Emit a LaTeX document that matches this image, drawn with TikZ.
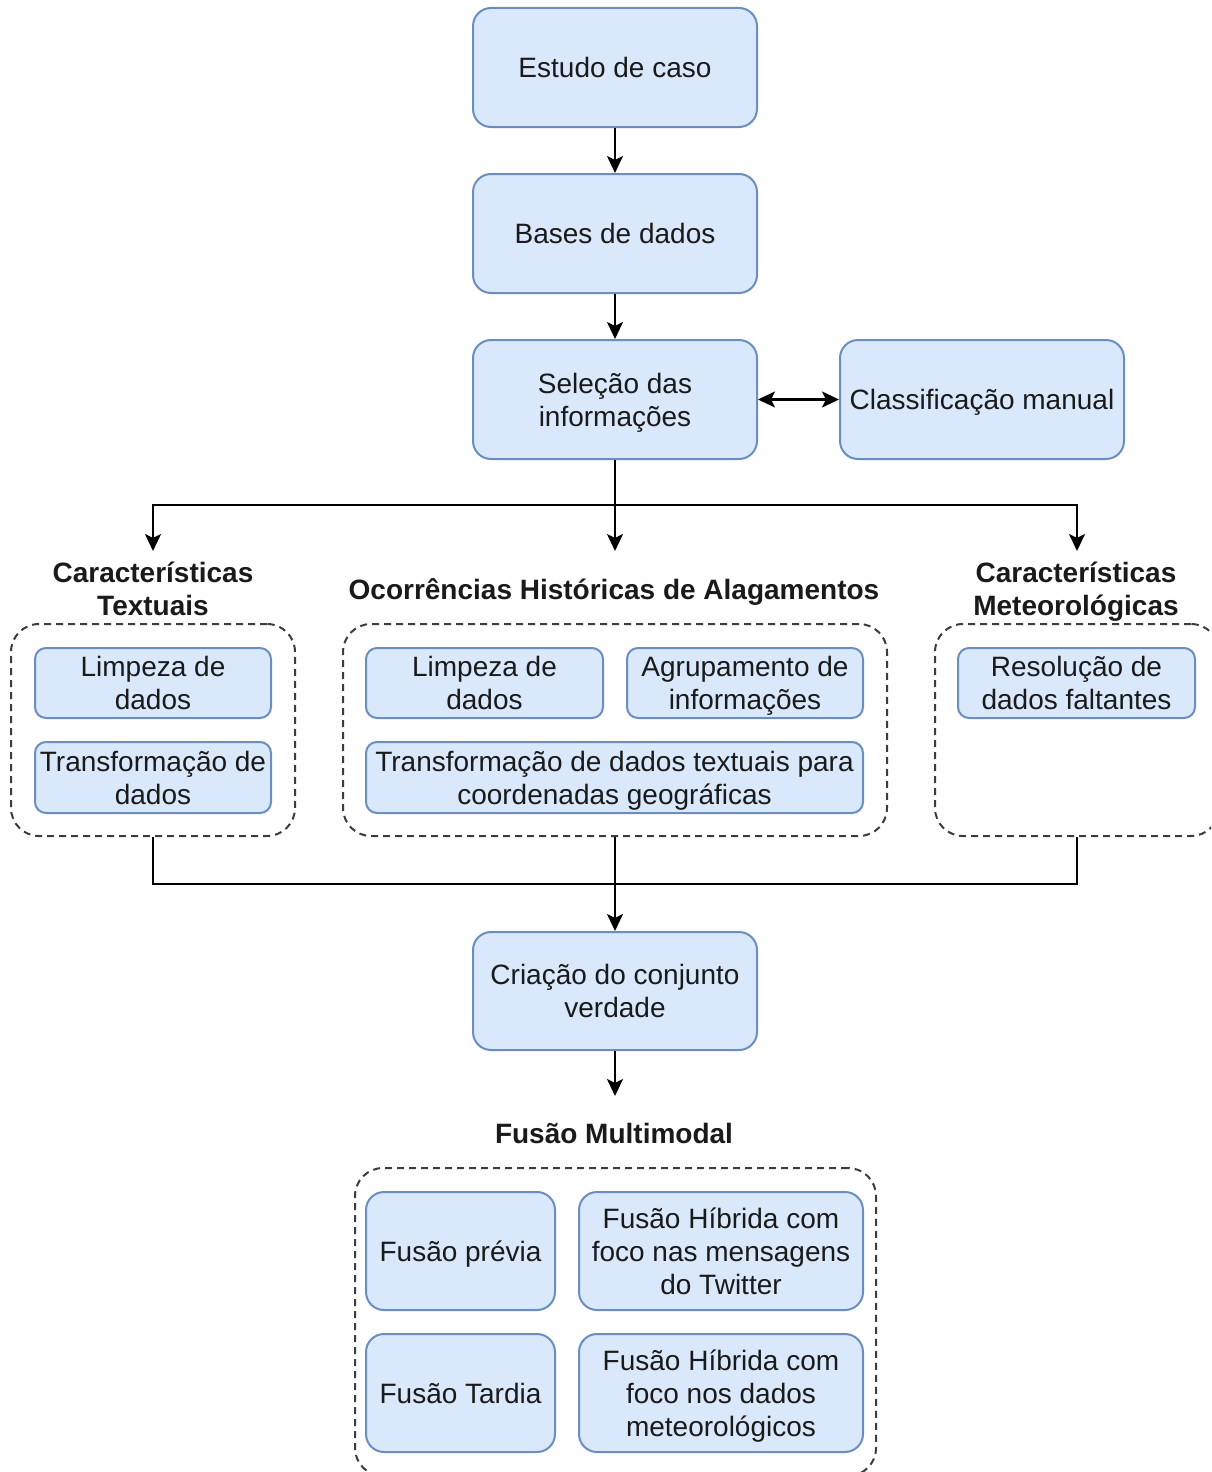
\documentclass[tikz,border=0pt]{standalone}
\usepackage{fontspec}
\setmainfont{Liberation Sans}
\usetikzlibrary{arrows.meta}

\definecolor{boxfill}{HTML}{DAE8FC}
\definecolor{boxline}{HTML}{6C8EBF}
\definecolor{ink}{HTML}{1A1A1A}

\begin{document}
\begin{tikzpicture}[x=1pt, y=-1pt,
  every node/.style={text=ink, font=\fontsize{28}{33}\selectfont, align=center, inner sep=0pt, text depth=0pt},
  bigbox/.style={draw=boxline, fill=boxfill, line width=2pt, rounded corners=18pt},
  smallbox/.style={draw=boxline, fill=boxfill, line width=2pt, rounded corners=11pt},
  group/.style={draw=ink!85, dash pattern=on 7pt off 5pt, line width=2pt, rounded corners=28pt},
  grouplabel/.style={font=\fontsize{28}{33}\selectfont\bfseries},
  conn/.style={draw=black, line width=2.2pt},
  arr/.style={conn, -{Stealth[length=17pt, width=16pt, inset=4pt]}},
  biarr/.style={conn, {Stealth[length=17pt, width=16pt, inset=4pt]}-{Stealth[length=17pt, width=16pt, inset=4pt]}}
]
\clip (0,0) rectangle (1211,1472);

% main pipeline
\node[bigbox, minimum width=284pt, minimum height=119pt] (estudo) at (615,67.5) {Estudo de caso};
\node[bigbox, minimum width=284pt, minimum height=119pt] (bases) at (615,233.5) {Bases de dados};
\node[bigbox, minimum width=284pt, minimum height=119pt] (selecao) at (615,399.5) {Seleção das\\informações};
\node[bigbox, minimum width=284pt, minimum height=119pt] (classif) at (982,399.5) {Classificação manual};

% group titles
\node[grouplabel] (lblText) at (153,589) {Características\\Textuais};
\node[grouplabel] (lblOcorr) at (614,589) {Ocorrências Históricas de Alagamentos};
\node[grouplabel] (lblMeteo) at (1076,589) {Características\\Meteorológicas};

% dashed groups
\node[group, minimum width=284pt, minimum height=212pt] (grpText) at (153,730) {};
\node[group, minimum width=544pt, minimum height=212pt] (grpOcorr) at (615,730) {};
\node[group, minimum width=284pt, minimum height=212pt] (grpMeteo) at (1077,730) {};

% textual features
\node[smallbox, minimum width=236pt, minimum height=70pt] (t1) at (153,683) {Limpeza de\\dados};
\node[smallbox, minimum width=236pt, minimum height=71pt] (t2) at (153,777.5) {Transformação de\\dados};

% historical flood records
\node[smallbox, minimum width=237pt, minimum height=70pt] (o1) at (484.5,683) {Limpeza de\\dados};
\node[smallbox, minimum width=236pt, minimum height=70pt] (o2) at (745,683) {Agrupamento de\\informações};
\node[smallbox, minimum width=497pt, minimum height=71pt] (o3) at (614.5,777.5) {Transformação de dados textuais para\\coordenadas geográficas};

% meteorological features
\node[smallbox, minimum width=237pt, minimum height=70pt] (m1) at (1076.5,683) {Resolução de\\dados faltantes};

% ground truth
\node[bigbox, minimum width=284pt, minimum height=118pt] (criacao) at (615,991) {Criação do conjunto\\verdade};

% multimodal fusion
\node[grouplabel] (lblFusao) at (614,1133) {Fusão Multimodal};
\node[group, minimum width=521pt, minimum height=308pt] (grpFusao) at (615.5,1322) {};
\node[bigbox, minimum width=189pt, minimum height=118pt] (f1) at (460.5,1251) {Fusão prévia};
\node[bigbox, minimum width=284pt, minimum height=118pt] (f2) at (721,1251) {Fusão Híbrida com\\foco nas mensagens\\do Twitter};
\node[bigbox, minimum width=189pt, minimum height=118pt] (f3) at (460.5,1393) {Fusão Tardia};
\node[bigbox, minimum width=284pt, minimum height=118pt] (f4) at (721,1393) {Fusão Híbrida com\\foco nos dados\\meteorológicos};

% connector points
\coordinate (fork) at (615,505);
\coordinate (tipT) at (153,551);
\coordinate (tipO) at (615,551);
\coordinate (tipM) at (1077,551);
\coordinate (join) at (615,884);
\coordinate (tipF) at (615,1096);

% connectors
\draw[arr] (estudo.south) -- (bases.north);
\draw[arr] (bases.south) -- (selecao.north);
\draw[biarr] (selecao.east) -- (classif.west);
\draw[conn] (selecao.south) -- (fork);
\draw[arr] (fork) -- (tipO);
\draw[arr] (fork) -| (tipT);
\draw[arr] (fork) -| (tipM);
\draw[conn] (grpText.south) -- (grpText.south |- join) -- (grpMeteo.south |- join) -- (grpMeteo.south);
\draw[arr] (grpOcorr.south) -- (criacao.north);
\draw[arr] (criacao.south) -- (tipF);
\end{tikzpicture}
\end{document}
